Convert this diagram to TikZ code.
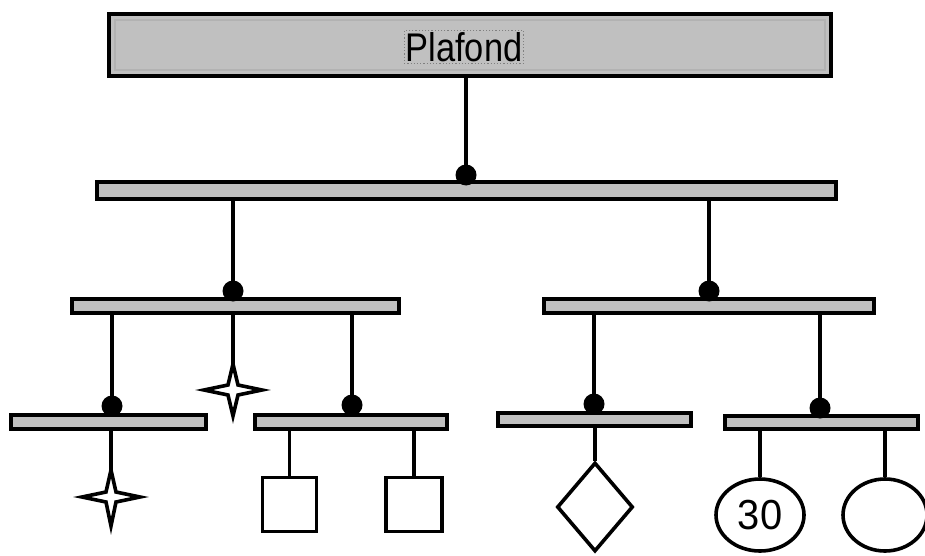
\documentclass[tikz,border=0pt]{standalone}
\usepackage{fontspec}
\newfontfamily\lsans{Liberation Sans}
\usetikzlibrary{shapes.geometric,calc}
\definecolor{barg}{HTML}{C0C0C0}
\tikzset{
  barbox/.style={draw=black, line width=4pt, fill=barg, inner sep=0pt, rectangle},
  conn/.style={line width=4.6pt, line cap=butt},
  thinconn/.style={line width=3.6pt},
  dotn/.style={circle, fill=black, minimum size=21pt, inner sep=0pt},
  leafbox/.style={draw=black, line width=3.6pt, fill=white, inner sep=0pt},
  starst/.style={draw=black, line width=3.6pt, fill=white, line join=miter},
}
\begin{document}
\begin{tikzpicture}[x=1pt, y=-1pt]
\useasboundingbox (0,0) rectangle (925,556);

% top box
\node[barbox, minimum width=722pt, minimum height=62pt] (top) at (470,45) {};
\draw[gray!60, line width=1.4pt] ($(top.north west)+(8,8)$) rectangle ($(top.south east)+(-8,-8)$);
\node[draw=gray, dotted, line width=1.2pt, inner sep=1.5pt, font=\lsans\fontsize{40}{40}\selectfont] (lbl) at (464,47) {\scalebox{0.86}[1]{Plafond}};

% bars
\node[barbox, minimum width=739pt, minimum height=17pt] (b1) at (466,190) {};
\node[barbox, minimum width=327pt, minimum height=14pt] (b2l) at (235,305.5) {};
\node[barbox, minimum width=330pt, minimum height=14pt] (b2r) at (708.5,305.5) {};
\node[barbox, minimum width=195pt, minimum height=14pt] (b3a) at (108,421.5) {};
\node[barbox, minimum width=192pt, minimum height=14pt] (b3b) at (350.5,421.5) {};
\node[barbox, minimum width=193pt, minimum height=13pt] (b3c) at (594,419) {};
\node[barbox, minimum width=193pt, minimum height=13pt] (b3d) at (821,422.5) {};

% dots
\node[dotn] (d1) at (466,175) {};
\node[dotn] (d2l) at (233,291) {};
\node[dotn] (d2r) at (709,291) {};
\node[dotn] (d3a) at (112,406) {};
\node[dotn] (d3b) at (352,405) {};
\node[dotn] (d3c) at (594,404) {};
\node[dotn] (d3d) at (820,408) {};

% connectors between bars
\draw[conn] (d1 |- top.south) -- (d1.center);
\draw[conn] (d2l |- b1.south) -- (d2l.center);
\draw[conn] (d2r |- b1.south) -- (d2r.center);
\draw[conn] (d3a |- b2l.south) -- (d3a.center);
\draw[conn] (d3b |- b2l.south) -- (d3b.center);
\draw[conn] (d3c |- b2r.south) -- (d3c.center);
\draw[conn] (d3d |- b2r.south) -- (d3d.center);

% leaves
\coordinate (s1) at (233,390);
\coordinate (s2) at (111,497);
\node[leafbox, minimum width=54pt, minimum height=54pt] (q1) at (289.5,504.5) {};
\node[leafbox, minimum width=56pt, minimum height=54pt] (q2) at (414,504.5) {};
\node[leafbox, diamond, minimum width=76pt, minimum height=89pt] (dm) at (595,507) {};
\node[leafbox, ellipse, minimum width=88pt, minimum height=72pt, font=\lsans\fontsize{42}{42}\selectfont] (c1) at (760,515) {\scalebox{0.95}[1]{30}};
\node[leafbox, ellipse, minimum width=84pt, minimum height=72pt] (c2) at (885,515) {};

\draw[thinconn] (s1 |- b2l.south) -- ($(s1)+(0,-24)$);
\draw[thinconn] (s2 |- b3a.south) -- ($(s2)+(0,-26)$);
\draw[thinconn] (q1.north |- b3b.south) -- (q1.north);
\draw[thinconn] (q2.north |- b3b.south) -- (q2.north);
\draw[thinconn] (dm.north |- b3c.south) -- (dm.north);
\draw[thinconn] (c1.north |- b3d.south) -- (c1.north);
\draw[thinconn] (c2.north |- b3d.south) -- (c2.north);

% stars
\begin{scope}[shift={(s1)}]
\draw[starst] (0,-26) -- (5,-5) -- (29,0) -- (5,5) -- (0,26) -- (-5,5) -- (-29,0) -- (-5,-5) -- cycle;
\end{scope}
\begin{scope}[shift={(s2)}]
\draw[starst] (0,-27) -- (5,-5) -- (29,0) -- (5,5) -- (0,29) -- (-5,5) -- (-29,0) -- (-5,-5) -- cycle;
\end{scope}
\end{tikzpicture}
\end{document}
